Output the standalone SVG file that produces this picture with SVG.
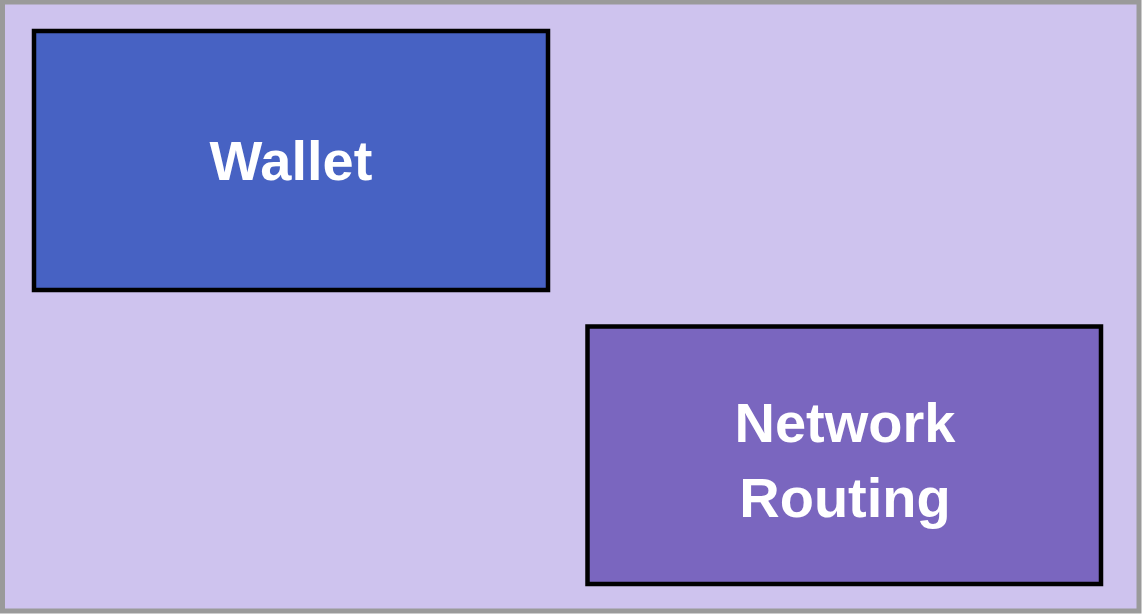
<svg xmlns="http://www.w3.org/2000/svg" width="1142" height="614" viewBox="0 0 1142 614">
<style>
.box{stroke:#000;stroke-width:4.5}
.lbl{font-family:"Liberation Sans",Arial,Helvetica,sans-serif;font-weight:bold;font-size:56px;fill:#fff;text-anchor:middle}
</style>
<rect x="0" y="0" width="1142" height="614" fill="#ffffff"/>
<g id="frame">
<rect x="2.5" y="2" width="1136.5" height="609" fill="#CEC3EE" stroke="#9A9A9A" stroke-width="5"/>
</g>
<g id="connectors"></g>
<g id="wallet">
<rect class="box" x="34" y="31" width="514" height="259" fill="#4762C3"/>
<text class="lbl" x="291" y="180">Wallet</text>
</g>
<g id="network-routing">
<rect class="box" x="587.5" y="326.5" width="513.5" height="257.5" fill="#7A66BF"/>
<text class="lbl" x="845" y="442">Network</text>
<text class="lbl" x="845" y="517">Routing</text>
</g>
</svg>
